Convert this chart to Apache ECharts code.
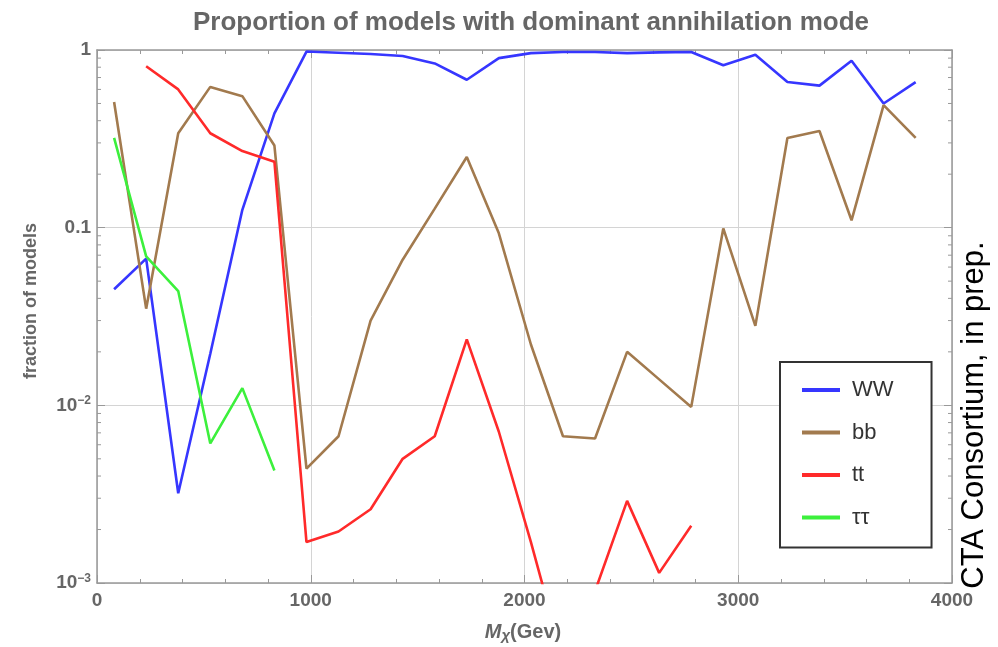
<!DOCTYPE html>
<html><head><meta charset="utf-8">
<script src="https://cdn.jsdelivr.net/npm/echarts@6/dist/echarts.min.js"></script>
<style>html,body{margin:0;padding:0;background:#fff}#c{width:998px;height:647px}</style>
</head><body><div id="c"></div>
<script>
// Dark-matter mass (GeV)
const massGeV = [80,230,380,530,680,830,980,1130,1280,1430,1580,1730,1880,2030,2180,2330,2480,2630,2780,2930,3080,3230,3380,3530,3680,3830];
// fraction of models per dominant annihilation mode
const fracWW = [0.045,0.067,0.0032,0.0195,0.126,0.44,0.98,0.965,0.95,0.925,0.84,0.68,0.90,0.96,0.975,0.975,0.96,0.97,0.975,0.82,0.94,0.66,0.63,0.87,0.50,0.66];
const fracBB = [0.51,0.035,0.34,0.62,0.55,0.29,0.0044,0.0067,0.030,0.066,0.128,0.25,0.093,0.022,0.0067,0.0065,0.020,0.014,0.0098,0.099,0.028,0.32,0.35,0.11,0.49,0.32];
const fracTT = [null,0.81,0.60,0.34,0.27,0.235,0.0017,0.00195,0.0026,0.0050,0.0067,0.0235,0.0071,0.0017,0.00037,0.0009,0.0029,0.00114,0.0021,null,null,null,null,null,null,null];
const fracTauTau = [0.32,0.069,0.044,0.0061,0.0125,0.0043,null,null,null,null,null,null,null,null,null,null,null,null,null,null,null,null,null,null,null,null];
const seriesNames = ['WW','bb','tt','ττ'];
const xTicks = [0,1000,2000,3000,4000];
const yMinorTicks = [];
for (let d = -3; d <= -1; d++) for (let m = 2; m <= 9; m++) yMinorTicks.push(+(m * Math.pow(10, d)).toPrecision(3));

const pair = arr => massGeV.map((x, i) => [x, arr[i]]);
const colors = ['#3636ff', '#a27a4e', '#ff2a2a', '#3cf03c'];
const labelColor = '#666';
const frameColor = '#999';

const chart = echarts.init(document.getElementById('c'));
const lineSeries = [fracWW, fracBB, fracTT, fracTauTau].map((arr, i) => ({
  name: seriesNames[i], type: 'line', data: pair(arr), showSymbol: false, symbol: 'none',
  connectNulls: false, clip: true, z: 3,
  lineStyle: { color: colors[i], width: 2.6 }, itemStyle: { color: colors[i] }
}));

const yFmt = v => {
  const e = Math.round(Math.log10(v));
  if (e === 0) return '1';
  if (e === -1) return '0.1';
  return '10{sup|\u2212' + (-e) + '}';
};

chart.setOption({
  animation: false,
  backgroundColor: '#fff',
  title: {
    text: 'Proportion of models with dominant annihilation mode',
    left: 526, top: 5, textAlign: 'center',
    textStyle: { fontFamily: 'Liberation Sans', fontWeight: 'bold', fontSize: 26, color: labelColor }
  },
  grid: { left: 97, right: 46, top: 50, bottom: 64, containLabel: false },
  legend: {
    data: seriesNames, orient: 'vertical', left: 780, top: 362,
    icon: 'rect', itemWidth: 38, itemHeight: 4, itemGap: 18.5,
    padding: [16, 38, 18, 22],
    backgroundColor: '#fff', borderColor: '#333', borderWidth: 2,
    textStyle: { fontFamily: 'Liberation Sans', fontSize: 22, color: '#333', lineHeight: 24, padding: [0, 0, 0, 7] }
  },
  xAxis: [{
    type: 'value', min: 0, max: 4000, interval: 1000, position: 'bottom',
    axisLine: { show: true, onZero: false, lineStyle: { color: frameColor, width: 1.5 } },
    axisTick: { show: true, inside: true, length: 8, lineStyle: { color: frameColor } },
    minorTick: { show: true, splitNumber: 5, length: 4, lineStyle: { color: frameColor } },
    splitLine: { show: true, lineStyle: { color: '#d4d4d4', width: 1 } },
    axisLabel: { fontFamily: 'Liberation Sans', fontWeight: 'bold', fontSize: 19, color: labelColor, margin: 8,
      formatter: v => xTicks.includes(v) ? String(v) : '' }
  }, {
    type: 'value', min: 0, max: 4000, interval: 1000, position: 'top',
    axisLine: { show: true, onZero: false, lineStyle: { color: frameColor, width: 1.5 } },
    axisTick: { show: true, inside: true, length: 8, lineStyle: { color: frameColor } },
    minorTick: { show: true, splitNumber: 5, length: 4, lineStyle: { color: frameColor } },
    splitLine: { show: false }, axisLabel: { show: false }
  }],
  yAxis: [{
    type: 'log', logBase: 10, min: 0.001, max: 1, position: 'left',
    axisLine: { show: true, onZero: false, lineStyle: { color: frameColor, width: 1.5 } },
    axisTick: { show: true, inside: true, length: 8, lineStyle: { color: frameColor } },
    splitLine: { show: true, lineStyle: { color: '#d4d4d4', width: 1 } },
    axisLabel: { fontFamily: 'Liberation Sans', fontWeight: 'bold', fontSize: 19, color: labelColor, margin: 6,
      formatter: yFmt, rich: { sup: { fontFamily: 'Liberation Sans', fontWeight: 'bold', fontSize: 12, color: labelColor, padding: [0, 0, 9, 0] } } }
  }, {
    type: 'log', logBase: 10, min: 0.001, max: 1, position: 'right',
    axisLine: { show: true, onZero: false, lineStyle: { color: frameColor, width: 1.5 } },
    axisTick: { show: true, inside: true, length: 8, lineStyle: { color: frameColor } },
    splitLine: { show: false }, axisLabel: { show: false }
  }],
  series: lineSeries.concat([{
    name: 'minorTicks', type: 'custom', silent: true, z: 2,
    data: yMinorTicks.map(v => [0, v]), encode: { x: 0, y: 1 },
    renderItem: (params, api) => {
      const v = api.value(1);
      const pl = api.coord([0, v]);
      const pr = api.coord([4000, v]);
      return { type: 'group', children: [
        { type: 'line', shape: { x1: pl[0], y1: pl[1], x2: pl[0] + 4, y2: pl[1] }, style: { stroke: frameColor, lineWidth: 1 } },
        { type: 'line', shape: { x1: pr[0] - 4, y1: pr[1], x2: pr[0], y2: pr[1] }, style: { stroke: frameColor, lineWidth: 1 } }
      ] };
    }
  }]),
  graphic: [
    { type: 'text', x: 31, y: 301, rotation: Math.PI / 2,
      style: { text: 'fraction of models', fontFamily: 'Liberation Sans', fontWeight: 'bold', fontSize: 18, fill: labelColor, align: 'center', verticalAlign: 'middle' } },
    { type: 'text', x: 523, y: 632,
      style: { text: '{i|M}{s|\u03c7}{n|(Gev)}', align: 'center', verticalAlign: 'middle',
        rich: {
          i: { fontFamily: 'Liberation Sans', fontStyle: 'italic', fontWeight: 'bold', fontSize: 20, fill: labelColor },
          s: { fontFamily: 'Liberation Sans', fontStyle: 'italic', fontWeight: 'bold', fontSize: 15, fill: labelColor, padding: [8, 0, 0, 0] },
          n: { fontFamily: 'Liberation Sans', fontWeight: 'bold', fontSize: 20, fill: labelColor }
        } } },
    { type: 'text', x: 974, y: 415, rotation: Math.PI / 2,
      style: { text: 'CTA Consortium, in prep.', fontFamily: 'Liberation Sans', fontSize: 31, fill: '#000', align: 'center', verticalAlign: 'middle' } }
  ]
});
</script></body></html>
